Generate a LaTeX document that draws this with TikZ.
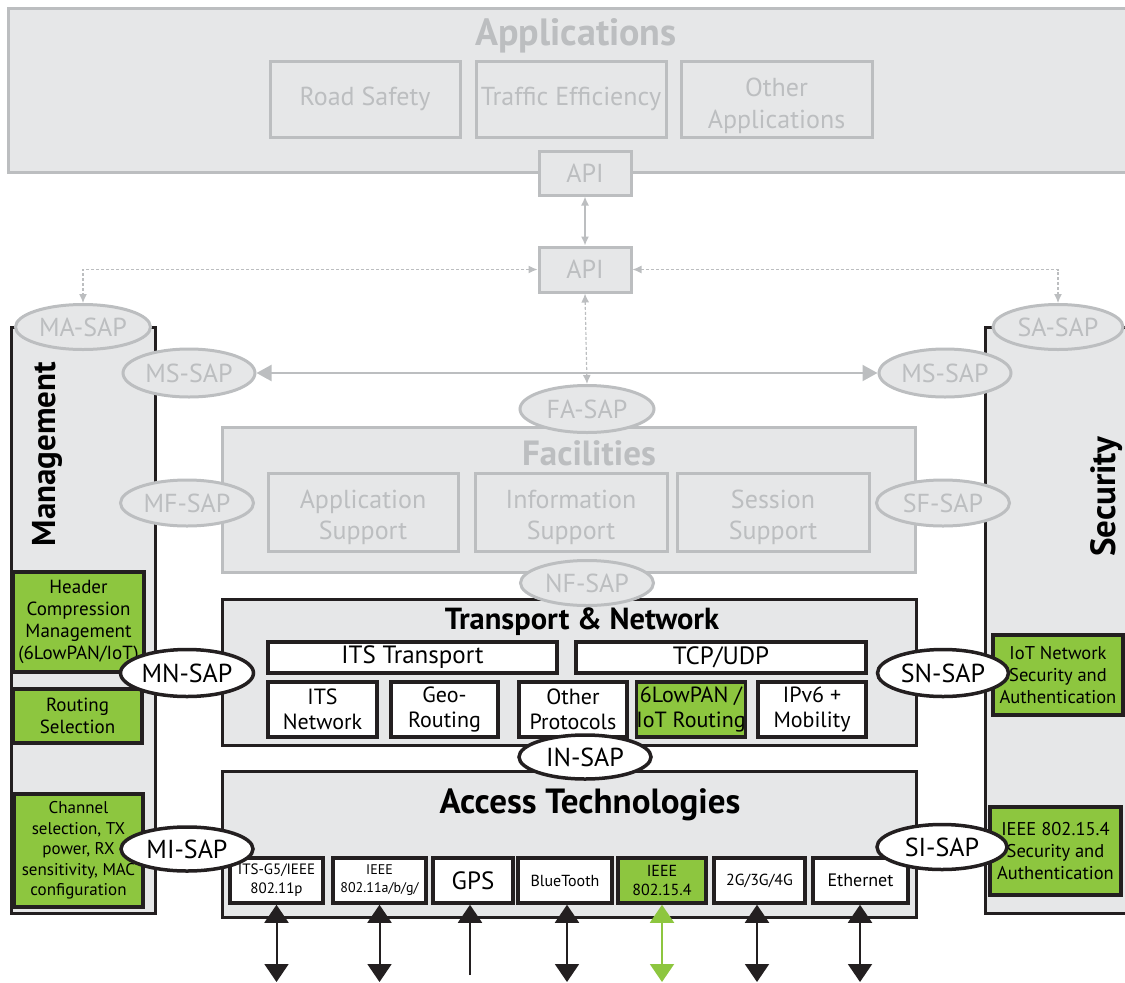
\documentclass[tikz,border=0pt]{standalone}
\usepackage{fontspec}
\setmainfont{PT Sans}
\usetikzlibrary{shapes,arrows,arrows.meta}
\definecolor{layergray}{HTML}{E6E7E8}
\definecolor{fadegray}{HTML}{BCBEC0}
\definecolor{iotgreen}{HTML}{8DC63F}
\definecolor{edgeblack}{HTML}{231F20}
\tikzstyle{fadebox} = [rectangle, draw=fadegray, line width=3pt, fill=layergray, text=fadegray, inner sep=0pt, align=center]
\tikzstyle{layerbox} = [rectangle, draw=edgeblack, line width=3pt, fill=layergray, inner sep=0pt]
\tikzstyle{whitebox} = [rectangle, draw=edgeblack, line width=3.5pt, fill=white, inner sep=0pt, align=center]
\tikzstyle{greenbox} = [rectangle, draw=edgeblack, line width=3.5pt, fill=iotgreen, inner sep=0pt, align=center]
\tikzstyle{fadesap} = [ellipse, draw=fadegray, line width=3pt, fill=layergray, text=fadegray, inner sep=0pt, minimum width=133pt, minimum height=46pt, font=\fontsize{26}{30}\selectfont]
\tikzstyle{sap} = [ellipse, draw=edgeblack, line width=3.5pt, fill=white, inner sep=0pt, minimum width=132pt, minimum height=46pt, font=\fontsize{26}{30}\selectfont]
\tikzstyle{fadeline} = [draw=fadegray, line width=1.5pt, {Latex[length=9pt,width=8pt]}-{Latex[length=9pt,width=8pt]}]
\tikzstyle{fadedash} = [fadeline, line width=1.2pt, dash pattern=on 3pt off 2pt]
\tikzstyle{bigline} = [draw=fadegray, line width=2pt, {Triangle[length=15pt,width=16pt]}-{Triangle[length=15pt,width=16pt]}]
\tikzstyle{radio} = [draw=edgeblack, line width=2pt, {Triangle[length=18pt,width=24pt]}-{Triangle[length=18pt,width=24pt]}]

\begin{document}
\begin{tikzpicture}[x=1pt,y=-1pt]
        \useasboundingbox (0,0) rectangle (1125,983);
        % applications layer
        \node (Apps) [fadebox, minimum width=1127pt, minimum height=164pt] at (571.5,90) {};
        \node (AppsT) [text=fadegray, font=\bfseries\fontsize{38}{42}\selectfont] at (576,36) {Applications};
        \node (Road) [fadebox, minimum width=190pt, minimum height=76pt, font=\fontsize{26}{31}\selectfont] at (365,99) {Road Safety};
        \node (Traffic) [fadebox, minimum width=190pt, minimum height=76pt, font=\fontsize{26}{31}\selectfont] at (571,99) {Traffic Efficiency};
        \node (OtherApp) [fadebox, minimum width=191pt, minimum height=76pt, font=\fontsize{26}{32}\selectfont] at (776.5,99) {\rule{0pt}{32pt}Other\\Applications};
        \node (API1) [fadebox, minimum width=92pt, minimum height=44pt, font=\fontsize{26}{31}\selectfont] at (585,173) {API};
        \node (API2) [fadebox, minimum width=92pt, minimum height=45pt, font=\fontsize{26}{31}\selectfont] at (585,269.5) {API};

        % side planes
        \node (Mgmt) [layerbox, minimum width=144pt, minimum height=586pt] at (83,620) {};
        \node (MgmtT) [rotate=90, font=\bfseries\fontsize{33}{37}\selectfont] at (47,454) {Management};
        \node (Sec) [layerbox, minimum width=150pt, minimum height=586pt] at (1060,620) {};
        \node (SecT) [rotate=90, font=\bfseries\fontsize{35}{39}\selectfont] at (1107,497) {Security};

        % facilities layer
        \node (Fac) [fadebox, minimum width=693pt, minimum height=145pt] at (568.5,499.5) {};
        \node (FacT) [text=fadegray, font=\bfseries\fontsize{35}{40}\selectfont] at (589,453) {Facilities};
        \node (AppSup) [fadebox, minimum width=190pt, minimum height=78pt, font=\fontsize{26}{31}\selectfont] at (363,512) {\rule{0pt}{30pt}Application\\Support};
        \node (InfoSup) [fadebox, minimum width=192pt, minimum height=78pt, font=\fontsize{26}{31}\selectfont] at (571,512) {\rule{0pt}{30pt}Information\\Support};
        \node (SesSup) [fadebox, minimum width=192pt, minimum height=78pt, font=\fontsize{26}{31}\selectfont] at (773,512) {\rule{0pt}{30pt}Session\\Support};

        % transport & network layer
        \node (TN) [layerbox, minimum width=694pt, minimum height=146pt] at (569,672) {};
        \node (TNT) [font=\bfseries\fontsize{30.5}{34}\selectfont] at (582,622) {Transport \& Network};
        \node (ITST) [whitebox, minimum width=289pt, minimum height=31pt, font=\fontsize{25}{29}\selectfont] at (412.5,657.5) {ITS Transport};
        \node (TCP) [whitebox, minimum width=290pt, minimum height=31pt, font=\fontsize{25}{29}\selectfont] at (721,657.5) {TCP/UDP};
        \node (ITSN) [whitebox, minimum width=109pt, minimum height=55pt, font=\fontsize{22}{25}\selectfont] at (322.5,709.5) {ITS\\Network};
        \node (Geo) [whitebox, minimum width=107pt, minimum height=55pt, font=\fontsize{22}{25}\selectfont] at (444.5,709.5) {Geo-\\Routing};
        \node (OtherP) [whitebox, minimum width=108pt, minimum height=55pt, font=\fontsize{22}{25}\selectfont] at (573,709.5) {Other\\Protocols};
        \node (LowPAN) [greenbox, minimum width=108pt, minimum height=55pt, font=\fontsize{22}{25}\selectfont] at (691,709.5) {6LowPAN /\\IoT Routing};
        \node (IPv6) [whitebox, minimum width=108pt, minimum height=55pt, font=\fontsize{22}{25}\selectfont] at (812,709.5) {IPv6 +\\Mobility};

        % access technologies layer
        \node (Acc) [layerbox, minimum width=694pt, minimum height=146pt] at (569,844) {};
        \node (AccT) [font=\bfseries\fontsize{35}{40}\selectfont] at (590,805) {Access Technologies};
        \node (G5) [whitebox, minimum width=93pt, minimum height=45pt, font=\fontsize{15}{19}\selectfont] at (276.5,880.5) {ITS-G5/IEEE\\802.11p};
        \node (Wifi) [whitebox, minimum width=93pt, minimum height=45pt, font=\fontsize{14}{18}\selectfont] at (379.5,880.5) {IEEE\\802.11a/b/g/};
        \node (GPS) [whitebox, minimum width=80pt, minimum height=45pt, font=\fontsize{25}{29}\selectfont] at (473,880.5) {GPS};
        \node (BT) [whitebox, minimum width=94pt, minimum height=45pt, font=\fontsize{16}{19}\selectfont] at (565,880.5) {BlueTooth};
        \node (Zig) [greenbox, minimum width=88pt, minimum height=45pt, font=\fontsize{16}{19}\selectfont] at (662,880.5) {IEEE\\802.15.4};
        \node (Cell) [whitebox, minimum width=91pt, minimum height=45pt, font=\fontsize{16}{19}\selectfont] at (759.5,880.5) {2G/3G/4G};
        \node (Eth) [whitebox, minimum width=95pt, minimum height=45pt, font=\fontsize{18}{21}\selectfont] at (860.5,880.5) {Ethernet};

        % management and security functions
        \node (HCM) [greenbox, minimum width=131pt, minimum height=100pt, font=\fontsize{19}{22}\selectfont] at (78.5,622) {Header\\Compression\\Management\\(6LowPAN/IoT)};
        \node (RSel) [greenbox, minimum width=129pt, minimum height=54pt, font=\fontsize{19}{22}\selectfont] at (77.5,716) {Routing\\Selection};
        \node (Chan) [greenbox, minimum width=129pt, minimum height=113pt, font=\fontsize{17}{20.5}\selectfont] at (78.5,850.5) {Channel\\selection, TX\\power, RX\\sensitivity, MAC\\configuration};
        \node (IoTSec) [greenbox, minimum width=130pt, minimum height=80pt, font=\fontsize{18.5}{22}\selectfont] at (1058,675) {IoT Network\\Security and\\Authentication};
        \node (ZigSec) [greenbox, minimum width=131pt, minimum height=88pt, font=\fontsize{18.5}{22}\selectfont] at (1055.5,851) {IEEE 802.15.4\\Security and\\Authentication};

        % service access points
        \node (MASAP) [fadesap, minimum width=135pt, minimum height=45pt] at (83,327) {MA-SAP};
        \node (SASAP) [fadesap, minimum width=130pt, minimum height=45pt] at (1058,327) {SA-SAP};
        \node (MSL) [fadesap, minimum width=132pt, minimum height=48pt] at (189,373) {MS-SAP};
        \node (MSR) [fadesap, minimum width=132pt, minimum height=48pt] at (945,373) {MS-SAP};
        \node (FASAP) [fadesap, minimum width=134pt, minimum height=47pt] at (587,409) {FA-SAP};
        \node (MFSAP) [fadesap] at (187,503) {MF-SAP};
        \node (SFSAP) [fadesap] at (943,503) {SF-SAP};
        \node (NFSAP) [fadesap, minimum height=45pt] at (587,583) {NF-SAP};
        \node (MNSAP) [sap, minimum width=133pt, minimum height=47pt] at (187,673) {MN-SAP};
        \node (SNSAP) [sap, minimum width=131pt, minimum height=47pt] at (943,673) {SN-SAP};
        \node (INSAP) [sap, minimum height=44pt] at (585,757) {IN-SAP};
        \node (MISAP) [sap, minimum height=44pt] at (187,849) {MI-SAP};
        \node (SISAP) [sap, minimum width=130pt, minimum height=45pt] at (942,847) {SI-SAP};

        % connectors
        \path [fadeline] (API1) -- (API2);
        \path [fadedash] (API2.west) -| (MASAP.north);
        \path [fadedash] (API2.east) -| (SASAP.north);
        \path [fadedash] (API2.south) -- (FASAP.north);
        \path [bigline] (MSL) -- (MSR);

        % radio interfaces
        \coordinate (g5end) at (276.5,982);
        \coordinate (wifiend) at (379.5,982);
        \coordinate (gpsend) at (470,975);
        \coordinate (btend) at (567,982);
        \coordinate (zigend) at (662,982);
        \coordinate (cellend) at (757,982);
        \coordinate (ethend) at (860,982);
        \path [radio] (g5end) -- (G5);
        \path [radio] (wifiend) -- (Wifi);
        \draw [draw=edgeblack, line width=2pt, -{Triangle[length=18pt,width=24pt]}] (gpsend) -- (gpsend |- GPS.south);
        \path [radio] (btend) -- (btend |- BT.south);
        \path [radio, draw=iotgreen, color=iotgreen] (zigend) -- (Zig);
        \path [radio] (cellend) -- (cellend |- Cell.south);
        \path [radio] (ethend) -- (ethend |- Eth.south);
\end{tikzpicture}
\end{document}
